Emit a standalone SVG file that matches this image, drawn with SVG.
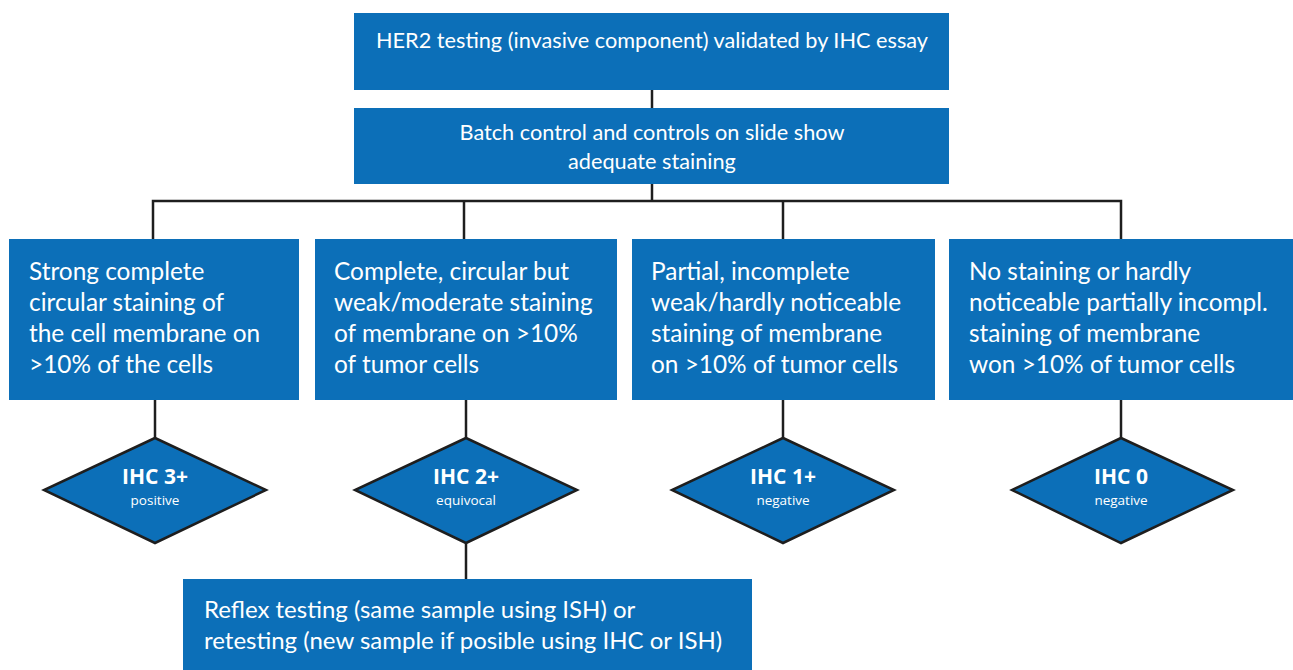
<svg xmlns="http://www.w3.org/2000/svg" width="1293" height="670" viewBox="0 0 1293 670">
<style>
.box{fill:#0c6fb8;}
.dia{fill:#0c6fb8;stroke:#1e1e1e;stroke-width:2.5;stroke-linejoin:miter;}
.t{font-family:Lato,"Open Sans",sans-serif;fill:#ffffff;}
.tm{font-size:21.7px;}
.tb{font-size:24.4px;}
.tr{font-size:24px;}
.dh{font-family:"Open Sans",Lato,sans-serif;font-weight:bold;font-size:21px;fill:#fff;text-anchor:middle;}
.ds{font-family:"Open Sans",Lato,sans-serif;font-size:13.5px;fill:#fff;text-anchor:middle;}
.c{fill:none;stroke:#1e1e1e;stroke-width:2.5;}
</style>
<rect width="1293" height="670" fill="#ffffff"/>
<g id="connectors">
<line class="c" x1="652" y1="90" x2="652" y2="108"/>
<line class="c" x1="652" y1="184" x2="652" y2="201"/>
<polyline class="c" points="153,240 153,201 1121,201 1121,240"/>
<line class="c" x1="464" y1="201" x2="464" y2="240"/>
<line class="c" x1="783" y1="201" x2="783" y2="240"/>
<line class="c" x1="155" y1="400" x2="155" y2="438"/>
<line class="c" x1="466" y1="400" x2="466" y2="438"/>
<line class="c" x1="783" y1="400" x2="783" y2="438"/>
<line class="c" x1="1121" y1="400" x2="1121" y2="438"/>
<line class="c" x1="466" y1="543" x2="466" y2="579"/>
</g>
<g id="n-top">
<rect class="box" x="354" y="13" width="595" height="77"/>
<text class="t tm" x="652" y="48" text-anchor="middle">HER2 testing (invasive component) validated by IHC essay</text>
</g>
<g id="n-batch">
<rect class="box" x="354" y="108" width="595" height="76"/>
<text class="t tm" x="652" y="140" text-anchor="middle">Batch control and controls on slide show</text>
<text class="t tm" x="652" y="169" text-anchor="middle">adequate staining</text>
</g>
<g id="n-b1">
<rect class="box" x="9" y="239" width="290" height="161"/>
<text class="t tb" x="29" y="280">Strong complete</text>
<text class="t tb" x="29" y="311">circular staining of</text>
<text class="t tb" x="29" y="342">the cell membrane on</text>
<text class="t tb" x="29" y="373">&gt;10% of the cells</text>
</g>
<g id="n-b2">
<rect class="box" x="315" y="239" width="302" height="161"/>
<text class="t tb" x="334" y="280">Complete, circular but</text>
<text class="t tb" x="334" y="311">weak/moderate staining</text>
<text class="t tb" x="334" y="342">of membrane on &gt;10%</text>
<text class="t tb" x="334" y="373">of tumor cells</text>
</g>
<g id="n-b3">
<rect class="box" x="632" y="239" width="303" height="161"/>
<text class="t tb" x="651" y="280">Partial, incomplete</text>
<text class="t tb" x="651" y="311">weak/hardly noticeable</text>
<text class="t tb" x="651" y="342">staining of membrane</text>
<text class="t tb" x="651" y="373">on &gt;10% of tumor cells</text>
</g>
<g id="n-b4">
<rect class="box" x="949" y="239" width="344" height="161"/>
<text class="t tb" x="969" y="280">No staining or hardly</text>
<text class="t tb" x="969" y="311">noticeable partially incompl.</text>
<text class="t tb" x="969" y="342">staining of membrane</text>
<text class="t tb" x="969" y="373">won &gt;10% of tumor cells</text>
</g>
<g id="n-ihc3">
<polygon class="dia" points="155,438 266,490 155,543 44,490"/>
<text class="dh" x="155" y="484">IHC 3+</text>
<text class="ds" x="155" y="505">positive</text>
</g>
<g id="n-ihc2">
<polygon class="dia" points="466,438 577,490 466,543 355,490"/>
<text class="dh" x="466" y="484">IHC 2+</text>
<text class="ds" x="466" y="505">equivocal</text>
</g>
<g id="n-ihc1">
<polygon class="dia" points="783,438 894,490 783,543 672,490"/>
<text class="dh" x="783" y="484">IHC 1+</text>
<text class="ds" x="783" y="505">negative</text>
</g>
<g id="n-ihc0">
<polygon class="dia" points="1121,438 1233,490 1121,543 1012,490"/>
<text class="dh" x="1121" y="484">IHC 0</text>
<text class="ds" x="1121" y="505">negative</text>
</g>
<g id="n-reflex">
<rect class="box" x="183" y="579" width="569" height="91"/>
<text class="t tr" x="204" y="618">Reflex testing (same sample using ISH) or</text>
<text class="t tr" x="204" y="649">retesting (new sample if posible using IHC or ISH)</text>
</g>
</svg>
